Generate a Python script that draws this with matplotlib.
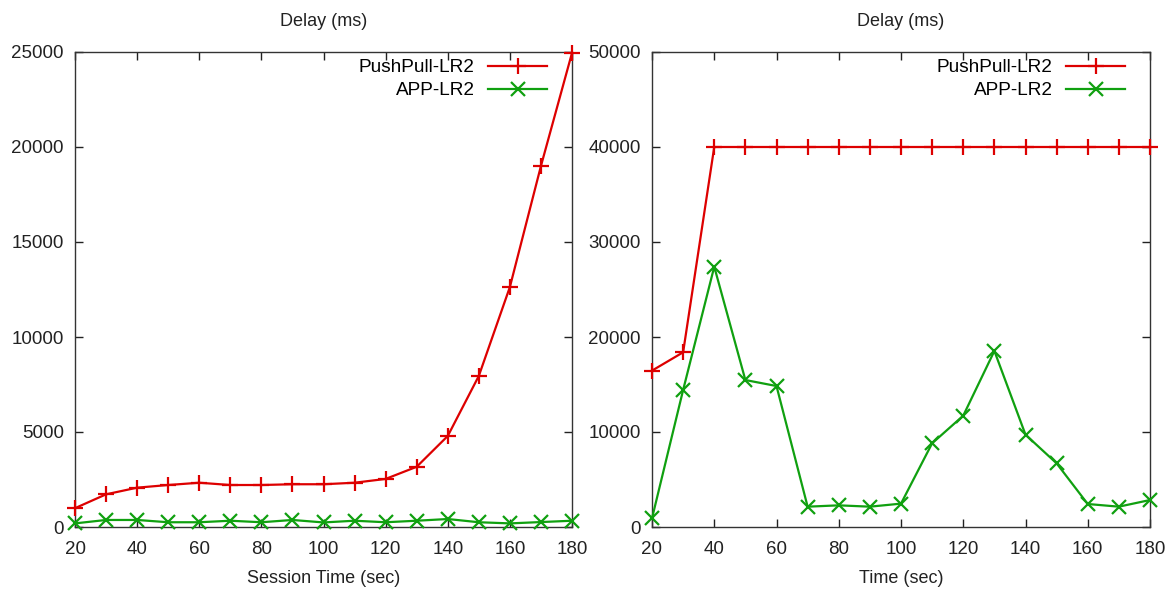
import matplotlib
matplotlib.use("Agg")
from matplotlib import pyplot as plt

plt.rcParams['font.family'] = ['Liberation Sans', 'DejaVu Sans']

time = [20, 30, 40, 50, 60, 70, 80, 90, 100, 110, 120, 130, 140, 150, 160, 170, 180]

# left panel: session time
pushpull_left = [990, 1720, 2070, 2210, 2330, 2210, 2210, 2250, 2250, 2330, 2530, 3170, 4790, 7950, 12630, 19000, 24950]
app_left = [190, 370, 370, 250, 250, 330, 250, 370, 240, 330, 250, 330, 420, 250, 190, 260, 330]

# right panel: time
pushpull_right = [16460, 18390, 40000, 40000, 40000, 40000, 40000, 40000, 40000, 40000, 40000, 40000, 40000, 40000, 40000, 40000, 40000]
app_right = [910, 14420, 27400, 15470, 14840, 2140, 2280, 2140, 2460, 8810, 11720, 18530, 9720, 6700, 2420, 2140, 2840]

red = '#dd0000'
green = '#10a010'

fig = plt.figure(figsize=(11.75, 5.92), dpi=100)
ax1 = fig.add_axes([75/1175, 65/592, 497/1175, 475/592])
ax2 = fig.add_axes([652/1175, 65/592, 498/1175, 475/592])

panels = [
    (ax1, pushpull_left, app_left, 25000, 5000, "Session Time (sec)"),
    (ax2, pushpull_right, app_right, 50000, 10000, "Time (sec)"),
]

for ax, pp, app, ymax, ystep, xlabel in panels:
    ax.plot(time, pp, color=red, lw=1.6, marker='+', ms=12, mew=1.6,
            label="PushPull-LR2", clip_on=False, zorder=3)
    ax.plot(time, app, color=green, lw=1.6, marker='x', ms=10, mew=1.6,
            label="APP-LR2", clip_on=False, zorder=3)
    ax.set_xlim(20, 180)
    ax.set_ylim(0, ymax)
    ax.set_xticks(range(20, 181, 20))
    ax.set_yticks(range(0, ymax + 1, ystep))
    ax.tick_params(direction='in', top=True, right=True, length=6, width=1,
                   labelsize=13.5, pad=8, colors='#222222')
    ax.tick_params(axis='x', pad=10)
    for s in ax.spines.values():
        s.set_linewidth(1)
        s.set_color('#333333')
    ax.set_title("Delay (ms)", fontsize=13, pad=19, color='#222222')
    ax.set_xlabel(xlabel, fontsize=13, labelpad=9, color='#222222')
    w = ax.get_position().width * 1175
    ax.legend(loc='upper right', bbox_to_anchor=(1 - 22/w, 1 - 4/475), borderaxespad=0,
              borderpad=0.15, frameon=False, markerfirst=False, fontsize=13.7,
              handlelength=3.1, labelspacing=0.3, handletextpad=0.7)

fig.savefig("out.png", dpi=100)
